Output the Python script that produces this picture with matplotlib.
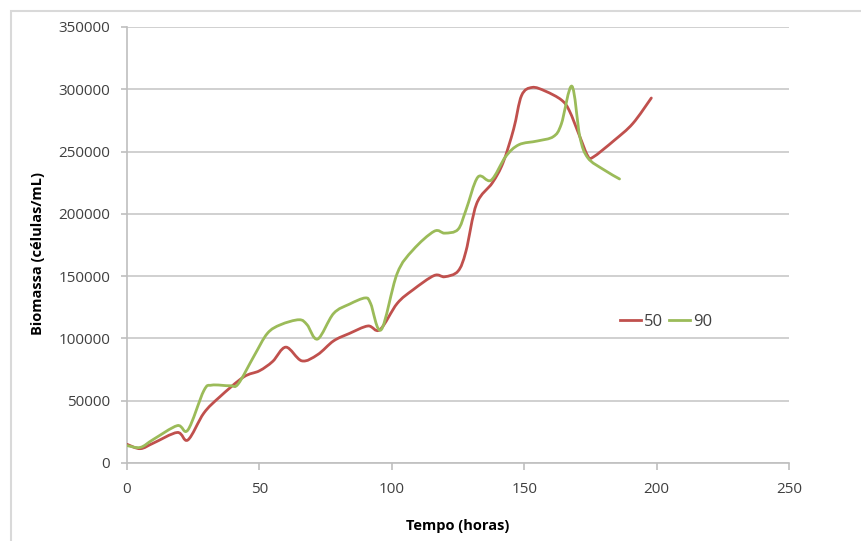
import matplotlib
matplotlib.use("Agg")
import matplotlib.pyplot as plt
from matplotlib.lines import Line2D
from matplotlib.patches import PathPatch, Rectangle
from matplotlib.path import Path

# Biomassa ao longo do tempo, séries "50" e "90"
tempo_50 = [0, 5, 10, 19, 23, 29, 35, 44, 50, 55, 60, 66, 72, 78, 84, 91, 95.5,
            102, 108, 116, 120, 125, 128, 132, 138, 142, 146, 149, 153, 158, 164,
            167, 171, 174, 176, 184, 191, 198]
biomassa_50 = [15000, 11500, 16000, 24500, 18500, 40000, 53000, 69000, 74000, 81500,
               93000, 82000, 87000, 98000, 104000, 110000, 107000, 128000, 139000,
               150500, 149500, 154000, 170000, 208000, 225000, 241000, 268000, 295000,
               301500, 298500, 291500, 283000, 262000, 246500, 245500, 259000, 272500,
               293000]

tempo_90 = [0, 5, 10, 19, 23, 29, 32, 39, 42, 48, 53, 58, 65, 68, 72, 78, 84, 90, 92,
            96, 102, 108, 116, 120, 125, 128, 132.5, 137.5, 143, 148, 155, 161, 164,
            168, 171, 174, 180, 186]
biomassa_90 = [14000, 12500, 19000, 30000, 26500, 58000, 62500, 62000, 63500, 86000,
               104000, 111000, 115000, 111000, 99500, 120000, 127500, 132500, 128000,
               107000, 152000, 171000, 186000, 184500, 187500, 203000, 229500, 227000,
               246000, 255500, 258500, 262000, 272000, 302500, 262000, 245000, 235500,
               228000]

series_labels = ["50", "90"]
series_colors = ["#C0504D", "#9BBB59"]

plt.rcParams["font.family"] = ["Open Sans", "DejaVu Sans"]


def smooth_path(xs, ys):
    # Excel-like smoothed line: Catmull-Rom segments as cubic Bezier curves
    pts = list(zip(xs, ys))
    verts = [pts[0]]
    codes = [Path.MOVETO]
    n = len(pts)
    for i in range(n - 1):
        p0 = pts[i - 1] if i > 0 else pts[i]
        p1 = pts[i]
        p2 = pts[i + 1]
        p3 = pts[i + 2] if i + 2 < n else pts[i + 1]
        c1 = (p1[0] + (p2[0] - p0[0]) / 6, p1[1] + (p2[1] - p0[1]) / 6)
        c2 = (p2[0] - (p3[0] - p1[0]) / 6, p2[1] - (p3[1] - p1[1]) / 6)
        verts += [c1, c2, p2]
        codes += [Path.CURVE4] * 3
    return Path(verts, codes)


fig = plt.figure(figsize=(8.61, 5.41), dpi=100)
ax = fig.add_axes([0.1475, 0.1442, 0.7689, 0.8059])

for xs, ys, color in zip([tempo_50, tempo_90], [biomassa_50, biomassa_90], series_colors):
    ax.add_patch(PathPatch(smooth_path(xs, ys), facecolor="none", edgecolor=color,
                           lw=2, capstyle="round", joinstyle="round", zorder=3))

ax.set_xlim(0, 250)
ax.set_ylim(0, 350000)
ax.set_xticks(range(0, 251, 50))
ax.set_yticks(range(0, 350001, 50000))
ax.yaxis.grid(True, color="#C8C8C8", lw=1.2)
ax.set_axisbelow(True)

for side in ["top", "right"]:
    ax.spines[side].set_visible(False)
for side in ["left", "bottom"]:
    ax.spines[side].set_color("#BFBFBF")
    ax.spines[side].set_linewidth(1.2)

ax.tick_params(axis="both", colors="#BFBFBF", labelcolor="#404040", labelsize=11,
               width=1.2)
ax.tick_params(axis="y", length=4, pad=8)
ax.tick_params(axis="x", length=5, pad=9)

ax.set_xlabel("Tempo (horas)", fontsize=10.5, fontweight="bold", color="#000000")
ax.set_ylabel("Biomassa (células/mL)", fontsize=10.5, fontweight="bold",
              color="#000000")
ax.xaxis.set_label_coords(0.5, -0.128)
ax.yaxis.set_label_coords(-0.124, 0.48)

handles = [Line2D([], [], color=c, lw=2) for c in series_colors]
ax.legend(handles, series_labels, loc="center left", bbox_to_anchor=(0.722, 0.323),
          ncol=2, frameon=False, fontsize=12, handlelength=1.25, handletextpad=0.2,
          columnspacing=0.35, labelcolor="#404040")

fig.patches.append(Rectangle((11 / 861, -0.05), 1.1, 1.05 - 11 / 541,
                             transform=fig.transFigure, facecolor="none",
                             edgecolor="#D9D9D9", lw=1.5))

fig.savefig("out.png", dpi=100)
